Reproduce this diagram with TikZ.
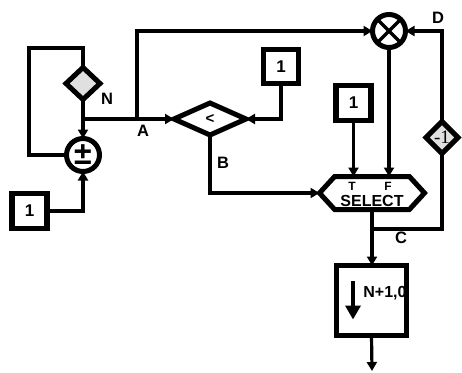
\documentclass[tikz,border=0pt]{standalone}
\usepackage{fontspec}
\setmainfont{Liberation Sans}
\newfontfamily\serifx{Liberation Serif}
\usetikzlibrary{shapes.geometric,shapes.symbols,arrows.meta,calc}
\begin{document}
\begin{tikzpicture}[x=1pt,y=-1pt,
  conn/.style={line width=3.2pt,-{Triangle[length=9pt,width=10pt]}},
  plain/.style={line width=3.2pt},
  box/.style={draw,line width=5.5pt,fill=white,minimum width=35pt,minimum height=35pt,inner sep=0pt,outer sep=0pt,font=\fontsize{17}{17}\selectfont\bfseries},
  dia/.style={draw,diamond,line width=5pt,inner sep=0pt,outer sep=0pt},
  circ/.style={draw,circle,line width=5pt,inner sep=0pt,outer sep=0pt,minimum size=33pt,fill=white},
  lab/.style={font=\fontsize{16.5}{16.5}\selectfont\bfseries,inner sep=0pt}]
\useasboundingbox (0,0) rectangle (462,372);
% nodes
\node[dia,fill=black!12,minimum width=34pt,minimum height=32pt] (ndia) at (83,83.5) {};
\node[circ] (pm) at (83,155) {\fontsize{32}{32}\selectfont\bfseries ±};
\node[box] (b0) at (29.5,211) {1};
\node[dia,fill=white,minimum width=72pt,minimum height=32pt,font=\fontsize{15}{15}\selectfont\bfseries] (lt) at (210,119) {<};
\node[box,minimum height=34pt] (b1) at (281,66.5) {1};
\node[box] (b2) at (353.5,103) {1};
\node[circ] (mul) at (389,31) {};
\draw[line width=3.2pt] (mul.north east) -- (mul.south west) (mul.north west) -- (mul.south east);
\node[dia,fill=black!12,minimum width=32pt,minimum height=32pt,font=\serifx\fontsize{19}{19}\selectfont] (neg) at (442,137.5) {-1};
\node[draw,shape=signal,signal to=west and east,signal pointer angle=95,minimum width=105pt,minimum height=33pt,line width=5pt,inner sep=0pt,outer sep=0pt,fill=white] (sel) at (372,193) {};
\node[font=\fontsize{12}{12}\selectfont\bfseries,inner sep=0pt] (tT) at (352,186.5) {T};
\node[font=\fontsize{12}{12}\selectfont\bfseries,inner sep=0pt] (tF) at (388,186.5) {F};
\node[font=\fontsize{16}{16}\selectfont\bfseries,inner sep=0pt] (tS) at (372,200.5) {SELECT};
\node[box,minimum width=70pt,minimum height=70pt] (nbox) at (371.5,300.5) {};
\node[font=\fontsize{16}{16}\selectfont\bfseries,inner sep=0pt] (nt) at (385,293) {N+1,0};
\draw[line width=4pt,-{Triangle[length=14pt,width=15pt]}] ($(nbox.center)+(-18.5,-19.5)$) -- ($(nbox.center)+(-18.5,19)$);
% labels
\node[lab] (lN) at (107,99) {N};
\node[lab] (lA) at (143,131) {A};
\node[lab] (lB) at (223,163) {B};
\node[lab] (lC) at (401,238) {C};
\node[lab] (lD) at (438,18) {D};
% coordinates
\coordinate (loopc) at (29,48);
\coordinate (jA) at (137,120);
\coordinate (jC) at (372,229);
\coordinate (out) at (372,371);
% connectors
\draw[plain] (ndia.north) |- (loopc) |- (pm.west);
\draw[conn] (ndia.south) -- (pm.north);
\draw[conn] (ndia.south |- lt.west) -- (lt.west);
\draw[conn] (jA) |- (mul.west);
\draw[conn] (b1.south) |- (lt.east);
\draw[conn] (lt.south) |- (sel.west);
\draw[conn] (b0.east) -| (pm.south);
\draw[conn] (b2.south) -- (b2.south |- sel.north);
\draw[conn] (mul.south) -- (mul.south |- sel.north);
\draw[conn] (sel.south) -- (sel.south |- nbox.north);
\draw[plain] (jC) -| (neg.south);
\draw[conn] (neg.north) |- (mul.east);
\draw[conn] (nbox.south) -- (out);
\end{tikzpicture}
\end{document}
